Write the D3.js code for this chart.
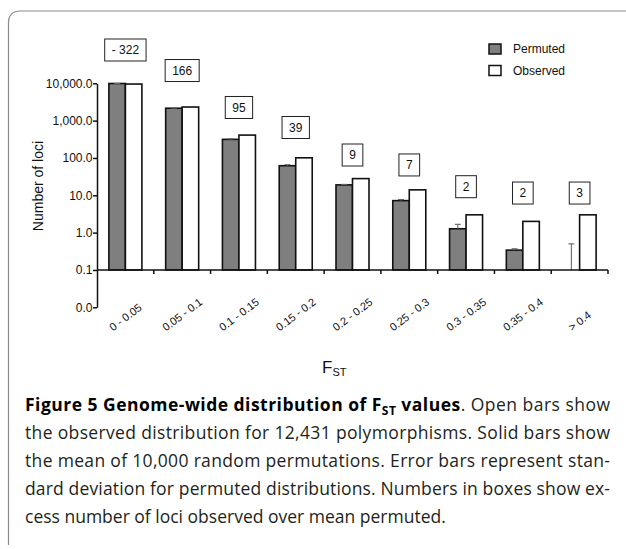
<!DOCTYPE html>
<html>
<head>
<meta charset="utf-8">
<script src="https://cdn.jsdelivr.net/npm/d3@7"></script>
<style>
  body { margin: 0; background: #fff; }
  svg { display: block; }
</style>
</head>
<body>
<div id="chart"></div>
<script>
// FST bins
const categories = ['0 - 0.05', '0.05 - 0.1', '0.1 - 0.15', '0.15 - 0.2', '0.2 - 0.25',
  '0.25 - 0.3', '0.3 - 0.35', '0.35 - 0.4', '> 0.4'];
const permuted = [9876, 2150, 315, 62, 19, 7.2, 1.27, 0.34, 0.08];
const permutedSd = [40, 30, 10, 4, 0.6, 0.5, 0.4, 0.03, 0.42];
const observed = [9554, 2316, 410, 101, 28, 14, 3, 2, 3];
const excess = ['- 322', '166', '95', '39', '9', '7', '2', '2', '3'];
// level (in loci) where each excess box sits
const excessAt = [78000, 22000, 2250, 655, 120, 65, 17, 11.5, 11.5];
const yTickValues = [0.01, 0.1, 1, 10, 100, 1000, 10000];
const yTickLabels = ['0.0', '0.1', '1.0', '10.0', '100.0', '1,000.0', '10,000.0'];
const seriesNames = ['Permuted', 'Observed'];
const seriesColors = ['#7f7f7f', '#ffffff'];
const captionLines = [
  'the observed distribution for 12,431 polymorphisms. Solid bars show',
  'the mean of 10,000 random permutations. Error bars represent stan-',
  'dard deviation for permuted distributions. Numbers in boxes show ex-',
  'cess number of loci observed over mean permuted.'
];

const width = 626, height = 549;
const font = 'Liberation Sans, Arial, sans-serif';

const svg = d3.select('#chart').append('svg')
  .attr('width', width)
  .attr('height', height);

// panel frame (top + left with rounded corner)
svg.append('path')
  .attr('d', 'M8.5,545 V23 Q8.5,11 20.5,11 H626')
  .attr('fill', 'none')
  .attr('stroke', '#8a8a8a')
  .attr('stroke-width', 1.2);

const x = d3.scaleBand().domain(categories).range([97, 608]);
const xSeries = d3.scaleBand().domain(seriesNames).range([0, x.bandwidth()]).paddingOuter(0.72);
const y = d3.scaleLog().domain([0.01, 10000]).range([307.3, 83.3]);
const base = 0.1;

const rows = categories.map((c, i) => ({ c, i }));

// bars
seriesNames.forEach((s, si) => {
  const vals = si === 0 ? permuted : observed;
  svg.append('g').selectAll('rect')
    .data(rows)
    .join('rect')
    .attr('x', d => x(d.c) + xSeries(s))
    .attr('y', d => y(Math.max(vals[d.i], base)))
    .attr('width', xSeries.bandwidth())
    .attr('height', d => y(base) - y(Math.max(vals[d.i], base)))
    .attr('fill', seriesColors[si])
    .attr('stroke', '#111')
    .attr('stroke-width', 1.6);
});

// error bars on permuted
const err = svg.append('g').attr('stroke', '#666').attr('stroke-width', 1.1);
rows.forEach(d => {
  const cx = x(d.c) + xSeries('Permuted') + xSeries.bandwidth() / 2;
  const top = y(permuted[d.i] + permutedSd[d.i]);
  const bot = y(Math.max(permuted[d.i], base));
  err.append('line').attr('x1', cx).attr('x2', cx).attr('y1', top).attr('y2', bot);
  err.append('line').attr('x1', cx - 3).attr('x2', cx + 3).attr('y1', top).attr('y2', top);
});

// y axis
const yAxis = svg.append('g')
  .attr('transform', 'translate(97,0)')
  .call(d3.axisLeft(y)
    .tickValues(yTickValues)
    .tickFormat((d, i) => yTickLabels[i])
    .tickSize(4)
    .tickSizeOuter(0)
    .tickPadding(0.5));
yAxis.selectAll('path, line').attr('stroke', '#111').attr('stroke-width', 1.5);
yAxis.selectAll('text').attr('font-family', font).attr('font-size', 12).attr('fill', '#111');

// x axis baseline at 0.1 with ticks between bins
const xAxis = svg.append('g').attr('stroke', '#111').attr('stroke-width', 1.5);
xAxis.append('line')
  .attr('x1', x.range()[0]).attr('x2', x.range()[1])
  .attr('y1', y(base)).attr('y2', y(base));
categories.slice(1).map(c => x(c)).concat([x.range()[1]]).forEach(t => {
  xAxis.append('line').attr('x1', t).attr('x2', t).attr('y1', y(base)).attr('y2', y(base) + 4);
});

// rotated bin labels
const angle = 37 * Math.PI / 180;
rows.forEach(d => {
  const t = svg.append('text')
    .attr('font-family', font)
    .attr('font-size', 11)
    .attr('fill', '#111')
    .attr('text-anchor', 'middle')
    .attr('dominant-baseline', 'central')
    .text(d.c);
  const L = t.node().getComputedTextLength();
  const cx = x(d.c) + x.bandwidth() / 2;
  const cy = 332 - (L * Math.sin(angle) + 9 * Math.cos(angle)) / 2;
  t.attr('transform', `translate(${cx},${cy}) rotate(-37)`);
});

// excess boxes
rows.forEach(d => {
  const g = svg.append('g')
    .attr('transform', `translate(${x(d.c) + x.bandwidth() / 2},${y(excessAt[d.i])})`);
  const t = g.append('text')
    .attr('font-family', font)
    .attr('font-size', 12)
    .attr('fill', '#111')
    .attr('text-anchor', 'middle')
    .attr('dy', '0.36em')
    .text(excess[d.i]);
  const w = t.node().getComputedTextLength() + 14;
  g.insert('rect', 'text')
    .attr('x', -w / 2).attr('y', -11)
    .attr('width', w).attr('height', 22)
    .attr('fill', '#fff')
    .attr('stroke', '#222')
    .attr('stroke-width', 1);
});

// legend
const legend = svg.append('g').attr('transform', 'translate(489,44)');
seriesNames.forEach((s, i) => {
  legend.append('rect')
    .attr('x', 0).attr('y', i * 21.5)
    .attr('width', 12).attr('height', 10)
    .attr('fill', seriesColors[i])
    .attr('stroke', '#111')
    .attr('stroke-width', 1.5);
  legend.append('text')
    .attr('x', 24).attr('y', i * 21.5 + 5)
    .attr('dy', '0.35em')
    .attr('font-family', font)
    .attr('font-size', 12)
    .attr('fill', '#111')
    .text(s);
});

// axis titles
svg.append('text')
  .attr('transform', 'translate(43,186) rotate(-90)')
  .attr('text-anchor', 'middle')
  .attr('font-family', font)
  .attr('font-size', 14)
  .attr('fill', '#111')
  .text('Number of loci');

const fst = svg.append('text')
  .attr('x', 322).attr('y', 373)
  .attr('font-family', font)
  .attr('font-size', 17)
  .attr('fill', '#111');
fst.append('tspan').text('F');
fst.append('tspan').attr('font-size', 11).attr('dy', 3).text('ST');

// caption
const capFont = 'Open Sans, sans-serif';
const capX = 25, capW = 585, capY = 411, lineH = 28;
const first = svg.append('text')
  .attr('x', capX).attr('y', capY)
  .attr('font-family', capFont)
  .attr('font-size', 17.5)
  .attr('fill', '#231f20')
  .attr('textLength', capW)
  .attr('lengthAdjust', 'spacing');
first.append('tspan').attr('font-weight', 'bold').attr('fill', '#000').text('Figure 5 Genome-wide distribution of F');
first.append('tspan').attr('font-weight', 'bold').attr('fill', '#000').attr('font-size', 12).attr('dy', 4).text('ST');
first.append('tspan').attr('font-weight', 'bold').attr('fill', '#000').attr('dy', -4).text(' values');
first.append('tspan').text('. Open bars show');

captionLines.forEach((line, i) => {
  const t = svg.append('text')
    .attr('x', capX).attr('y', capY + (i + 1) * lineH)
    .attr('font-family', capFont)
    .attr('font-size', 17.5)
    .attr('fill', '#231f20')
    .text(line);
  if (i < captionLines.length - 1) {
    t.attr('textLength', capW).attr('lengthAdjust', 'spacing');
  }
});
</script>
</body>
</html>
